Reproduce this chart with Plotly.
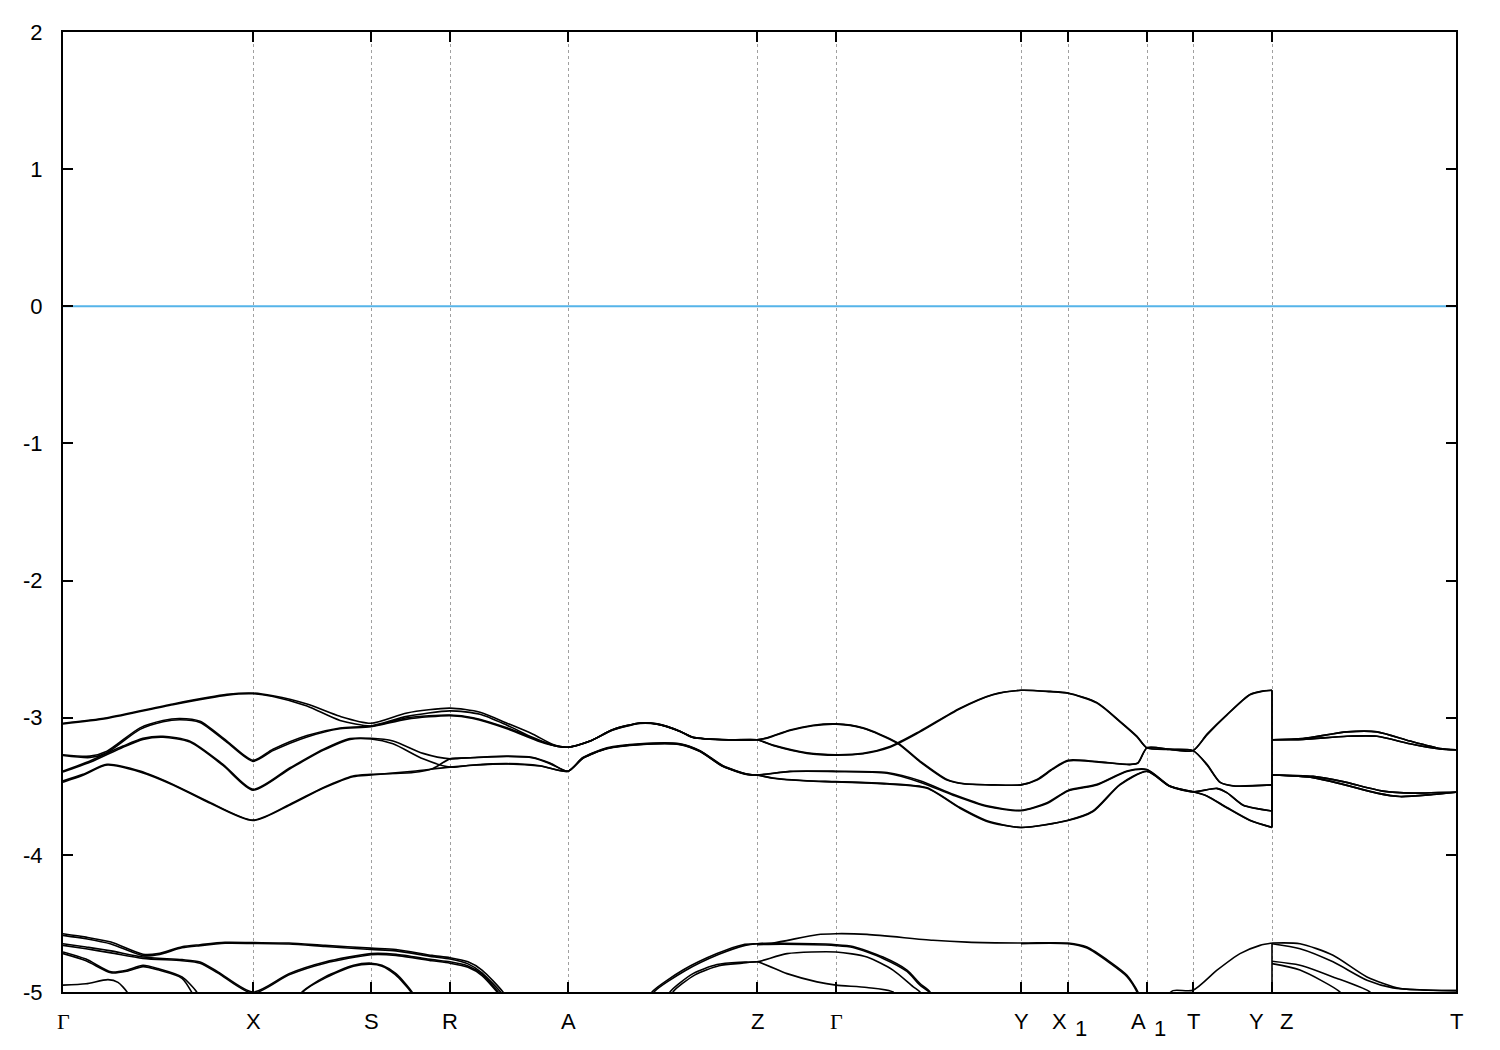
import plotly.graph_objects as go

# ---- high-symmetry points on the k path ----
kpt_pos = [0.0, 1.90, 3.08, 3.87, 5.05, 6.94, 7.73, 9.58, 10.05, 10.84, 11.30, 12.09, 13.93]
kpt_lab = ["Γ", "X", "S", "R", "A", "Z", "Γ", "Y", "X|1", "A|1", "T", "Y Z", "T"]
y_ticks = [2, 1, 0, -1, -2, -3, -4, -5]
fermi_level = 0.0

# ---- upper valence group, path Γ ... Y (left of the Y|Z break) ----
band1_left = [(0, -3.04), (0.44, -3.00), (1.10, -2.90), (1.64, -2.83), (1.90, -2.82), (2.10, -2.84), (2.44, -2.90),
              (2.77, -2.99), (3.08, -3.04), (3.44, -2.965), (3.87, -2.93), (4.17, -2.96), (4.44, -3.04), (4.70, -3.12),
              (4.90, -3.195), (5.05, -3.215), (5.27, -3.17), (5.50, -3.086), (5.77, -3.038), (5.94, -3.045),
              (6.17, -3.098), (6.30, -3.142), (6.67, -3.161), (6.94, -3.161), (7.05, -3.145), (7.27, -3.09),
              (7.50, -3.055), (7.73, -3.045), (8.00, -3.074), (8.34, -3.18), (8.57, -3.316), (8.84, -3.45),
              (9.00, -3.48), (9.30, -3.49), (9.58, -3.49), (9.74, -3.45), (9.90, -3.37), (10.05, -3.31),
              (10.34, -3.32), (10.67, -3.34), (10.75, -3.33), (10.84, -3.22), (11.07, -3.23), (11.30, -3.24),
              (11.44, -3.12), (11.64, -2.977), (11.87, -2.83), (12.00, -2.805), (12.09, -2.80)]
band2_left = [(0, -3.045), (0.44, -3.005), (1.10, -2.905), (1.64, -2.835), (1.90, -2.825), (2.10, -2.845), (2.44, -2.915),
              (2.77, -3.02), (3.08, -3.06), (3.44, -3.00), (3.87, -2.98), (4.10, -3.00), (4.44, -3.074), (4.77, -3.17),
              (4.95, -3.21), (5.05, -3.215), (5.27, -3.17), (5.50, -3.086), (5.77, -3.038), (5.94, -3.045),
              (6.17, -3.098), (6.30, -3.142), (6.67, -3.161), (6.94, -3.161), (7.10, -3.20), (7.44, -3.256),
              (7.73, -3.27), (8.00, -3.26), (8.27, -3.21), (8.57, -3.098), (8.97, -2.93), (9.30, -2.83), (9.58, -2.80),
              (9.87, -2.808), (10.05, -2.82), (10.34, -2.89), (10.57, -3.026), (10.74, -3.135), (10.84, -3.22),
              (11.07, -3.23), (11.30, -3.24), (11.44, -3.34), (11.57, -3.47), (11.70, -3.498), (12.09, -3.49)]
band3_left = [(0, -3.27), (0.27, -3.28), (0.44, -3.244), (0.77, -3.074), (1.00, -3.02), (1.17, -3.006), (1.37, -3.026),
              (1.64, -3.171), (1.90, -3.311), (2.10, -3.23), (2.44, -3.13), (2.77, -3.075), (3.08, -3.06), (3.44, -2.99),
              (3.87, -2.95), (4.17, -2.975), (4.44, -3.055), (4.70, -3.145), (4.90, -3.20), (5.05, -3.215),
              (5.27, -3.172), (5.50, -3.09), (5.77, -3.042), (5.94, -3.048), (6.17, -3.10), (6.30, -3.145),
              (6.67, -3.163), (6.94, -3.161), (7.05, -3.147), (7.27, -3.093), (7.50, -3.058), (7.73, -3.047),
              (8.00, -3.077), (8.34, -3.185), (8.57, -3.322), (8.84, -3.455), (9.00, -3.482), (9.30, -3.49),
              (9.58, -3.49), (9.74, -3.455), (9.90, -3.375), (10.05, -3.315), (10.34, -3.322), (10.67, -3.342),
              (10.75, -3.33), (10.84, -3.22), (11.07, -3.232), (11.30, -3.24), (11.44, -3.125), (11.64, -2.98),
              (11.87, -2.833), (12.00, -2.806), (12.09, -2.80)]
band4_left = [(0, -3.275), (0.27, -3.29), (0.44, -3.255), (0.77, -3.085), (1.00, -3.03), (1.17, -3.015), (1.37, -3.035),
              (1.64, -3.18), (1.90, -3.318), (2.10, -3.24), (2.44, -3.14), (2.77, -3.08), (3.08, -3.065), (3.44, -3.01),
              (3.87, -2.985), (4.10, -3.005), (4.44, -3.08), (4.77, -3.175), (4.95, -3.21), (5.05, -3.215),
              (5.27, -3.17), (5.50, -3.088), (5.77, -3.04), (5.94, -3.047), (6.17, -3.10), (6.30, -3.144),
              (6.67, -3.162), (6.94, -3.161), (7.10, -3.203), (7.44, -3.26), (7.73, -3.273), (8.00, -3.263),
              (8.27, -3.215), (8.57, -3.103), (8.97, -2.935), (9.30, -2.833), (9.58, -2.80), (9.87, -2.81),
              (10.05, -2.822), (10.34, -2.893), (10.57, -3.03), (10.74, -3.14), (10.84, -3.22), (11.07, -3.232),
              (11.30, -3.24), (11.44, -3.345), (11.57, -3.472), (11.70, -3.496), (12.09, -3.49)]
band5_left = [(0, -3.389), (0.27, -3.316), (0.60, -3.207), (0.80, -3.15), (1.00, -3.135), (1.27, -3.171), (1.60, -3.34),
              (1.90, -3.522), (2.27, -3.365), (2.60, -3.231), (2.87, -3.152), (3.08, -3.15), (3.30, -3.17),
              (3.60, -3.26), (3.87, -3.30), (4.10, -3.29), (4.44, -3.28), (4.70, -3.29), (4.87, -3.33), (5.05, -3.39),
              (5.20, -3.29), (5.44, -3.22), (5.77, -3.19), (6.17, -3.19), (6.37, -3.24), (6.60, -3.35), (6.84, -3.41),
              (6.94, -3.418), (7.27, -3.39), (7.73, -3.39), (8.24, -3.40), (8.57, -3.46), (8.90, -3.558),
              (9.24, -3.643), (9.58, -3.675), (9.84, -3.62), (10.05, -3.53), (10.34, -3.486), (10.64, -3.389),
              (10.84, -3.377), (11.07, -3.498), (11.30, -3.54), (11.54, -3.515), (11.64, -3.546), (11.80, -3.636),
              (12.09, -3.68)]
band6_left = [(0, -3.395), (0.27, -3.325), (0.60, -3.215), (0.80, -3.158), (1.00, -3.142), (1.27, -3.178), (1.60, -3.348),
              (1.90, -3.528), (2.27, -3.372), (2.60, -3.238), (2.87, -3.158), (3.08, -3.155), (3.30, -3.19),
              (3.60, -3.30), (3.87, -3.36), (4.10, -3.345), (4.44, -3.335), (4.77, -3.35), (5.05, -3.39),
              (5.20, -3.292), (5.44, -3.223), (5.77, -3.193), (6.17, -3.192), (6.37, -3.243), (6.60, -3.352),
              (6.84, -3.412), (6.94, -3.418), (7.27, -3.393), (7.73, -3.393), (8.24, -3.405), (8.57, -3.47),
              (8.90, -3.565), (9.24, -3.648), (9.58, -3.678), (9.84, -3.625), (10.05, -3.535), (10.34, -3.49),
              (10.64, -3.392), (10.84, -3.38), (11.07, -3.50), (11.30, -3.54), (11.44, -3.57), (11.64, -3.655),
              (11.87, -3.747), (12.09, -3.80)]
band7_left = [(0, -3.461), (0.20, -3.413), (0.44, -3.34), (0.77, -3.389), (1.10, -3.486), (1.44, -3.607), (1.90, -3.747),
              (2.27, -3.631), (2.60, -3.51), (2.90, -3.425), (3.08, -3.413), (3.50, -3.40), (3.70, -3.37),
              (3.87, -3.30), (4.10, -3.292), (4.44, -3.283), (4.70, -3.293), (4.87, -3.335), (5.05, -3.39),
              (5.20, -3.295), (5.44, -3.225), (5.77, -3.195), (6.17, -3.195), (6.37, -3.245), (6.60, -3.355),
              (6.84, -3.413), (6.94, -3.418), (7.10, -3.44), (7.44, -3.46), (7.73, -3.466), (8.24, -3.48),
              (8.64, -3.51), (8.97, -3.655), (9.24, -3.752), (9.58, -3.80), (10.05, -3.747), (10.30, -3.68),
              (10.57, -3.486), (10.84, -3.39), (11.07, -3.50), (11.30, -3.54), (11.44, -3.572), (11.64, -3.658),
              (11.87, -3.75), (12.09, -3.80)]
band8_left = [(0, -3.47), (0.20, -3.42), (0.44, -3.345), (0.77, -3.395), (1.10, -3.49), (1.44, -3.612), (1.90, -3.75),
              (2.27, -3.636), (2.60, -3.515), (2.90, -3.43), (3.08, -3.418), (3.50, -3.39), (3.87, -3.36),
              (4.10, -3.347), (4.44, -3.337), (4.77, -3.352), (5.05, -3.39), (5.20, -3.296), (5.44, -3.226),
              (5.77, -3.196), (6.17, -3.196), (6.37, -3.246), (6.60, -3.356), (6.84, -3.414), (6.94, -3.418),
              (7.10, -3.442), (7.44, -3.462), (7.73, -3.468), (8.24, -3.483), (8.64, -3.515), (8.97, -3.66),
              (9.24, -3.756), (9.58, -3.80), (10.05, -3.75), (10.30, -3.684), (10.57, -3.49), (10.84, -3.392),
              (11.07, -3.502), (11.30, -3.54), (11.54, -3.517), (11.64, -3.548), (11.80, -3.638), (12.09, -3.68)]

# ---- upper valence group, path Z ... T (right of the break) ----
zt_top1 = [(12.09, -3.161), (12.40, -3.152), (12.84, -3.103), (13.14, -3.103), (13.47, -3.17), (13.77, -3.224), (13.93, -3.234)]
zt_top2 = [(12.09, -3.161), (12.40, -3.158), (12.84, -3.135), (13.14, -3.135), (13.47, -3.19), (13.77, -3.228), (13.93, -3.234)]
zt_low1 = [(12.09, -3.418), (12.50, -3.437), (12.80, -3.486), (13.14, -3.55), (13.37, -3.575), (13.70, -3.56), (13.93, -3.544)]
zt_low2 = [(12.09, -3.418), (12.50, -3.428), (12.80, -3.466), (13.20, -3.535), (13.50, -3.55), (13.75, -3.546), (13.93, -3.544)]

# ---- lower valence group (visible parts only, above -5 eV) ----
low_a = [(0, -4.575), (0.23, -4.60), (0.48, -4.636), (0.80, -4.725), (0.95, -4.72), (1.19, -4.67), (1.37, -4.655),
         (1.62, -4.638), (1.90, -4.64), (2.26, -4.643), (2.62, -4.66), (3.08, -4.68), (3.33, -4.69), (3.69, -4.733),
         (3.87, -4.75), (4.05, -4.78), (4.19, -4.84), (4.40, -5.0), (4.45, -5.06)]
low_b = [(0, -4.587), (0.23, -4.612), (0.48, -4.65), (0.80, -4.735), (0.95, -4.728), (1.19, -4.678), (1.37, -4.662),
         (1.62, -4.645), (1.90, -4.646), (2.26, -4.65), (2.62, -4.668), (3.08, -4.69), (3.33, -4.70), (3.69, -4.742),
         (3.87, -4.76), (4.05, -4.795), (4.19, -4.86), (4.40, -5.02), (4.44, -5.06)]
low_c = [(0, -4.648), (0.23, -4.672), (0.48, -4.70), (0.80, -4.745), (1.19, -4.764), (1.37, -4.781), (1.55, -4.853),
         (1.90, -5.0), (2.26, -4.866), (2.62, -4.781), (3.08, -4.72), (3.33, -4.725), (3.69, -4.764), (3.87, -4.78),
         (4.05, -4.81), (4.19, -4.87), (4.42, -5.06)]
low_d = [(0, -4.66), (0.23, -4.685), (0.48, -4.715), (0.80, -4.755), (1.19, -4.772), (1.37, -4.79), (1.55, -4.862),
         (1.90, -5.01), (2.26, -4.875), (2.62, -4.79), (3.08, -4.728), (3.33, -4.733), (3.69, -4.772), (3.87, -4.79),
         (4.05, -4.82), (4.19, -4.88), (4.41, -5.06)]
low_e = [(0, -4.708), (0.23, -4.76), (0.48, -4.853), (0.64, -4.84), (0.80, -4.805), (0.95, -4.829), (1.19, -4.89),
         (1.337, -5.0), (1.37, -5.06)]
low_e2 = [(0, -4.72), (0.23, -4.772), (0.48, -4.86), (0.64, -4.848), (0.80, -4.815), (0.95, -4.838), (1.19, -4.90),
          (1.33, -5.06)]
low_f = [(0, -4.95), (0.23, -4.94), (0.45, -4.91), (0.55, -4.93), (0.64, -5.0), (0.67, -5.06)]
low_g = [(2.36, -5.06), (2.39, -5.0), (2.62, -4.89), (2.905, -4.805), (3.08, -4.79), (3.19, -4.805), (3.33, -4.866),
         (3.49, -5.0), (3.52, -5.06)]
low_g2 = [(2.37, -5.06), (2.40, -5.0), (2.63, -4.895), (2.905, -4.812), (3.08, -4.797), (3.19, -4.812), (3.32, -4.872),
          (3.48, -5.0), (3.51, -5.06)]
low_m1 = [(5.86, -5.06), (5.89, -5.0), (6.20, -4.84), (6.54, -4.72), (6.80, -4.655), (6.94, -4.648), (7.10, -4.643),
          (7.54, -4.582), (7.73, -4.575), (8.04, -4.58), (8.70, -4.623), (9.04, -4.636), (9.58, -4.643), (10.05, -4.643),
          (10.24, -4.672), (10.47, -4.78), (10.64, -4.878), (10.75, -5.0), (10.78, -5.06)]
low_m1b = [(9.58, -4.647), (10.05, -4.648), (10.24, -4.68), (10.47, -4.79), (10.64, -4.888), (10.74, -5.0), (10.77, -5.06)]
low_m2 = [(5.88, -5.06), (5.91, -5.0), (6.22, -4.845), (6.56, -4.725), (6.82, -4.66), (6.94, -4.648), (7.20, -4.645),
          (7.73, -4.655), (7.90, -4.668), (8.20, -4.745), (8.44, -4.84), (8.57, -4.938), (8.67, -5.0), (8.70, -5.06)]
low_m2b = [(6.94, -4.655), (7.20, -4.652), (7.73, -4.662), (7.90, -4.675), (8.20, -4.755), (8.44, -4.85),
           (8.57, -4.95), (8.66, -5.0), (8.69, -5.06)]
low_m3 = [(6.05, -5.06), (6.07, -5.0), (6.30, -4.866), (6.54, -4.80), (6.77, -4.783), (6.94, -4.78), (7.24, -4.72),
          (7.73, -4.708), (8.04, -4.745), (8.30, -4.84), (8.50, -4.96), (8.57, -5.0), (8.60, -5.06)]
low_m4 = [(6.08, -5.06), (6.10, -5.0), (6.32, -4.875), (6.56, -4.808), (6.79, -4.79), (6.94, -4.78), (7.24, -4.866),
          (7.54, -4.926), (7.73, -4.95), (8.04, -4.967), (8.30, -5.0), (8.34, -5.06)]
low_n = [(11.00, -5.06), (11.10, -4.99), (11.30, -4.987), (11.54, -4.841), (11.77, -4.72), (11.97, -4.66), (12.09, -4.643)]
low_ra = [(12.09, -4.643), (12.37, -4.648), (12.70, -4.732), (13.04, -4.89), (13.37, -4.975), (13.70, -4.987), (13.93, -4.99)]
low_rb = [(12.09, -4.648), (12.37, -4.684), (12.70, -4.78), (13.04, -4.914), (13.30, -4.97), (13.60, -4.985), (13.93, -4.99)]
low_rc = [(12.09, -4.776), (12.37, -4.805), (12.70, -4.89), (13.07, -5.0), (13.12, -5.06)]
low_rd = [(12.09, -4.793), (12.37, -4.84), (12.77, -5.0), (12.82, -5.06)]
low_break = [(12.09, -5.06), (12.09, -4.643)]

upper_left = [band1_left, band2_left, band3_left, band4_left, band5_left, band6_left, band7_left, band8_left]
upper_right = [zt_top1, zt_top2, zt_top1, zt_top2, zt_low1, zt_low2, zt_low1, zt_low2]
lower_lines = [low_a, low_b, low_c, low_d, low_e, low_e2, low_f, low_g, low_g2, low_m1, low_m1b, low_m2, low_m2b,
               low_m3, low_m4, low_n, low_ra, low_rb, low_rc, low_rd]

BAND_COLOR = "black"
BAND_W = 1.6
FONT = "Liberation Sans, Arial, sans-serif"
SERIF = "Liberation Serif, Times New Roman, serif"
LAB_SIZE = 22

fig = go.Figure()


def add_curve(pts, shape="spline"):
    fig.add_trace(go.Scatter(
        x=[p[0] for p in pts], y=[p[1] for p in pts], mode="lines",
        line=dict(color=BAND_COLOR, width=BAND_W, shape=shape, smoothing=0.7 if shape == "spline" else None),
        hoverinfo="skip", showlegend=False))


for left, right in zip(upper_left, upper_right):
    add_curve(left)
    add_curve(right)
    # jump at the Y|Z break
    add_curve([left[-1], right[0]], shape="linear")

for pts in lower_lines:
    add_curve(pts)
add_curve(low_break, shape="linear")

# Fermi level
fig.add_trace(go.Scatter(x=[kpt_pos[0], kpt_pos[-1]], y=[fermi_level, fermi_level], mode="lines",
                         line=dict(color="#56b4e9", width=2), hoverinfo="skip", showlegend=False))


def label(pos, text, xanchor="center", xshift=0, yshift=-29, family=FONT):
    fig.add_annotation(x=pos, xref="x", y=0, yref="paper", text=text, showarrow=False,
                       xanchor=xanchor, yanchor="middle", xshift=xshift, yshift=yshift,
                       font=dict(family=family, size=LAB_SIZE, color="black"))


# k-point labels as annotations (Γ in a serif face, subscripts lowered, Y Z split)
for pos, lab in zip(kpt_pos, kpt_lab):
    if lab == "Y Z":
        label(pos, "Y", xanchor="right", xshift=-6)
        label(pos, "Z", xanchor="left", xshift=6)
    elif "|" in lab:
        main, sub = lab.split("|")
        label(pos, main, xanchor="right", xshift=1)
        label(pos, sub, xanchor="left", xshift=5, yshift=-36)
    elif lab == "Γ":
        label(pos, lab, family=SERIF)
    else:
        label(pos, lab)

fig.update_layout(
    width=1500, height=1050,
    margin=dict(l=55, r=52, t=17, b=66),
    paper_bgcolor="white", plot_bgcolor="white",
    showlegend=False,
    font=dict(family=FONT, size=LAB_SIZE, color="black"),
)
fig.update_xaxes(
    range=[kpt_pos[0], kpt_pos[-1]], tickvals=kpt_pos, showticklabels=False,
    ticks="inside", ticklen=10, tickwidth=2, tickcolor="black",
    showline=True, linewidth=2, linecolor="black", mirror="ticks",
    showgrid=True, gridcolor="#a0a0a0", gridwidth=1, griddash="3px,3px",
    zeroline=False,
)
fig.update_yaxes(
    range=[-5, 2], tickvals=y_ticks, ticktext=[str(v) for v in y_ticks],
    ticks="inside", ticklen=10, tickwidth=2, tickcolor="black",
    showline=True, linewidth=2, linecolor="black", mirror="ticks",
    showgrid=False, zeroline=False, ticklabelstandoff=14,
    tickfont=dict(family=FONT, size=LAB_SIZE, color="black"),
)

fig.write_html("out.html")
